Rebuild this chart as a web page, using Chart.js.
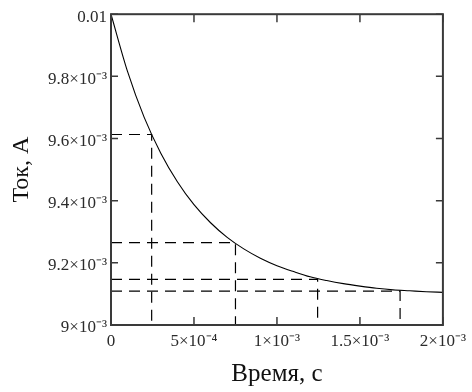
<!DOCTYPE html>
<html>
<head>
<meta charset="utf-8">
<script src="https://cdn.jsdelivr.net/npm/chart.js@4"></script>
<style>
  html, body { margin: 0; padding: 0; background: #fff; }
</style>
</head>
<body>
<canvas id="chart" width="472" height="392"></canvas>
<script>
// time, s
const timeVals = [0, 0.0001, 0.0002, 0.0003, 0.0004, 0.0005, 0.0006, 0.0007, 0.0008, 0.0009, 0.001,
  0.0011, 0.0012, 0.0013, 0.0014, 0.0015, 0.0016, 0.0017, 0.0018, 0.0019, 0.002];
// current, A
const currentVals = [0.01, 0.009815, 0.009668, 0.009553, 0.009461, 0.009387, 0.009329, 0.009282, 0.009245, 0.009215, 0.009191,
  0.009172, 0.009155, 0.009143, 0.009133, 0.009125, 0.009118, 0.009113, 0.00911, 0.009107, 0.009105];

// marked points (dashed guides)
const markTimes = [0.000245, 0.00075, 0.001245, 0.001742];
const markCurrents = [0.009613, 0.009265, 0.009147, 0.009109];

const xTicks = [0, 0.0005, 0.001, 0.0015, 0.002];
const xTickLabels = ["0", "5×10⁻⁴", "1×10⁻³", "1.5×10⁻³", "2×10⁻³"];
const yTicks = [0.009, 0.0092, 0.0094, 0.0096, 0.0098, 0.01];
const yTickLabels = ["9×10⁻³", "9.2×10⁻³", "9.4×10⁻³", "9.6×10⁻³", "9.8×10⁻³", "0.01"];

const xMin = 0, xMax = 0.002;
const yMin = 0.009, yMax = 0.01;

const curve = timeVals.map((t, i) => ({ x: t, y: currentVals[i] }));

const guides = markTimes.map((t, i) => ({
  data: [{ x: xMin, y: markCurrents[i] }, { x: t, y: markCurrents[i] }, { x: t, y: yMin }],
  borderColor: "#000",
  borderWidth: 1.2,
  borderDash: [11, 7],
  pointRadius: 0,
  showLine: true,
  tension: 0
}));

// frame + inward tick marks like the original plot
const frameAndTicks = {
  id: "frameAndTicks",
  afterDatasetsDraw(chart) {
    const { ctx, chartArea: a, scales: { x, y } } = chart;
    ctx.save();
    ctx.strokeStyle = "#3a3a3a";
    ctx.lineWidth = 1.5;
    ctx.beginPath();
    xTicks.forEach(v => {
      const px = x.getPixelForValue(v);
      ctx.moveTo(px, a.bottom); ctx.lineTo(px, a.bottom - 8);
      ctx.moveTo(px, a.top); ctx.lineTo(px, a.top + 8);
    });
    yTicks.forEach(v => {
      const py = y.getPixelForValue(v);
      ctx.moveTo(a.left, py); ctx.lineTo(a.left + 7, py);
      ctx.moveTo(a.right, py); ctx.lineTo(a.right - 7, py);
    });
    ctx.stroke();
    ctx.lineWidth = 2;
    ctx.strokeRect(a.left, a.top, a.right - a.left, a.bottom - a.top);
    ctx.restore();
  }
};

const tickFont = { family: "Liberation Serif", size: 17 };

new Chart(document.getElementById("chart").getContext("2d"), {
  type: "scatter",
  data: {
    datasets: [{
      data: curve,
      borderColor: "#000",
      borderWidth: 1.1,
      pointRadius: 0,
      showLine: true,
      cubicInterpolationMode: "monotone"
    }, ...guides]
  },
  options: {
    responsive: false,
    devicePixelRatio: 1,
    animation: false,
    layout: { padding: { left: 0, top: 14, right: 27, bottom: 0 } },
    plugins: { legend: { display: false }, tooltip: { enabled: false } },
    scales: {
      x: {
        type: "linear",
        min: xMin,
        max: xMax,
        afterBuildTicks: s => { s.ticks = xTicks.map(v => ({ value: v })); },
        afterFit: s => { s.height = 67; },
        grid: { display: false, drawTicks: false },
        border: { display: false },
        ticks: {
          autoSkip: false,
          maxRotation: 0,
          padding: 6,
          color: "#2b2b2b",
          font: tickFont,
          callback: (v, i) => xTickLabels[i]
        },
        title: {
          display: true,
          text: "Время, с",
          color: "#111",
          font: { family: "Liberation Serif", size: 25, lineHeight: 1 },
          padding: { top: 0, bottom: 5 }
        }
      },
      y: {
        type: "linear",
        min: yMin,
        max: yMax,
        afterBuildTicks: s => { s.ticks = yTicks.map(v => ({ value: v })); },
        afterFit: s => { s.width = 111; },
        grid: { display: false, drawTicks: false },
        border: { display: false },
        ticks: {
          autoSkip: false,
          padding: 4,
          labelOffset: 3,
          color: "#2b2b2b",
          font: tickFont,
          callback: (v, i) => yTickLabels[i]
        },
        title: {
          display: true,
          text: "Ток, А",
          color: "#111",
          font: { family: "Liberation Serif", size: 24, lineHeight: 1 },
          padding: { top: 10, bottom: 0 }
        }
      }
    }
  },
  plugins: [frameAndTicks]
});
</script>
</body>
</html>
